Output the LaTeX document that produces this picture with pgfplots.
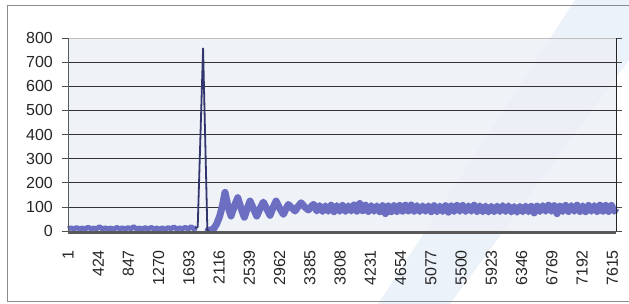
\documentclass[border=0pt]{standalone}
\usepackage{pgfplots}
\pgfplotsset{compat=1.18}
\usepackage{fontspec}
\setmainfont{Liberation Sans}
\definecolor{band}{RGB}{108,110,194}
\definecolor{spike}{RGB}{50,54,108}
\definecolor{plotbg}{RGB}{237,240,246}
\definecolor{wm}{RGB}{236,242,250}
\begin{document}
\begin{tikzpicture}[x=1pt,y=1pt]
\useasboundingbox (0,0) rectangle (629,304);
\fill[white] (0,0) rectangle (629,304);
\fill[wm] (378,0) -- (450,0) -- (629,244) -- (629,304) -- (575,304) -- cycle;
\draw[black!45, line width=0.8pt] (629,299) -- (7,299) -- (7,3) -- (629,3);
\begin{axis}[
  at={(68pt,73pt)}, anchor=south west, scale only axis,
  width=548pt, height=193pt,
  xmin=1, xmax=7665, ymin=0, ymax=800,
  clip=false,
  axis background/.style={fill=plotbg, fill opacity=0.85},
  axis line style={draw=none},
  xtick={1,424,847,1270,1693,2116,2539,2962,3385,3808,4231,4654,5077,5500,5923,6346,6769,7192,7615},
  xticklabels={1,424,847,1270,1693,2116,2539,2962,3385,3808,4231,4654,5077,5500,5923,6346,6769,7192,7615},
  ytick={0,100,200,300,400,500,600,700,800},
  yticklabels={0,100,200,300,400,500,600,700,800},
  xtick style={draw=none},
  ytick style={black!70, line width=0.7pt},
  tick align=outside, major tick length=6pt,
  ymajorgrids, major grid style={black!80, line width=0.5pt},
  ticklabel style={font=\fontsize{16}{18}\selectfont, text=black!85},
  xticklabel style={rotate=90, anchor=east, inner sep=0pt},
  yticklabel style={anchor=east, inner sep=0pt},
  xticklabel shift=13pt,
  yticklabel shift=9pt,
]
% baseline noise before the peak
\addplot[band, line width=5pt, line join=round] coordinates {
(1,9)(41,13)(81,8)(121,14)(161,9)(201,12)(241,8)(281,16)(321,9)(361,12)
(401,9)(441,18)(481,8)(521,13)(561,9)(601,12)(641,7)(681,15)(721,9)(761,13)
(801,8)(841,14)(881,9)(921,18)(961,8)(1001,12)(1041,8)(1081,14)(1121,7)(1161,15)
(1201,9)(1241,12)(1281,8)(1321,13)(1361,7)(1401,14)(1441,9)(1481,17)(1521,8)(1561,13)
(1601,9)(1641,15)(1681,8)(1721,18)(1761,9)(1801,13)};
% damped oscillation after the peak
\addplot[band, line width=7pt, line join=round, line cap=round] coordinates {
(1961,3)(2001,4)(2041,10)(2081,30)(2121,60)(2161,105)(2197,160)(2240,100)(2281,62)
(2330,105)(2375,138)(2420,95)(2467,57)(2510,95)(2547,124)(2595,92)(2641,62)
(2690,95)(2733,120)(2780,92)(2827,65)(2870,98)(2911,124)(2960,95)(3013,69)
(3050,92)(3083,110)(3130,96)(3177,83)(3220,102)(3261,117)(3310,100)(3363,87)
(3400,100)(3433,110)(3480,98)(3520,92)};
% steady noisy level
\addplot[band, line width=7pt, line join=round] coordinates {
(3441,106)(3481,83)(3521,105)(3561,81)(3601,104)(3641,82)(3681,107)(3721,80)(3761,105)(3801,82)
(3841,106)(3881,81)(3921,104)(3961,83)(4001,108)(4041,82)(4081,114)(4121,84)(4161,107)(4201,81)
(4241,105)(4281,82)(4321,104)(4361,80)(4401,105)(4441,72)(4481,104)(4521,80)(4561,105)(4601,81)
(4641,106)(4681,82)(4721,107)(4761,83)(4801,108)(4841,82)(4881,105)(4921,81)(4961,104)(5001,82)
(5041,104)(5081,80)(5121,105)(5161,80)(5201,103)(5241,81)(5281,105)(5321,78)(5361,104)(5401,81)
(5441,106)(5481,82)(5521,106)(5561,81)(5601,104)(5641,82)(5681,107)(5721,81)(5761,104)(5801,80)
(5841,103)(5881,79)(5921,102)(5961,80)(6001,103)(6041,81)(6081,105)(6121,81)(6161,104)(6201,79)
(6241,101)(6281,78)(6321,102)(6361,80)(6401,103)(6441,80)(6481,102)(6521,75)(6561,103)(6601,81)
(6641,105)(6681,82)(6721,107)(6761,82)(6801,105)(6841,72)(6881,103)(6921,81)(6961,106)(7001,81)
(7041,105)(7081,82)(7121,107)(7161,81)(7201,104)(7241,80)(7281,106)(7321,82)(7361,105)(7401,81)
(7441,107)(7481,82)(7521,106)(7561,81)(7601,106)(7641,82)(7665,95)};
% sharp peak
\addplot[spike, line width=1.8pt, line join=round] coordinates {
(1781,12)(1815,16)(1890,757)(1950,3)(1975,2)};
\draw[black!25, line width=0.8pt] (rel axis cs:0,1) -- (rel axis cs:1,1);
\draw[black!65, line width=0.8pt] (rel axis cs:0,0) -- (rel axis cs:0,1);
\draw[black!85, line width=0.8pt] (rel axis cs:1,1) -- (rel axis cs:1,0);
\draw[black!65, line width=3pt] ([yshift=-1.5pt]rel axis cs:0,0) -- ([yshift=-1.5pt]rel axis cs:1,0);
\end{axis}
\end{tikzpicture}
\end{document}
